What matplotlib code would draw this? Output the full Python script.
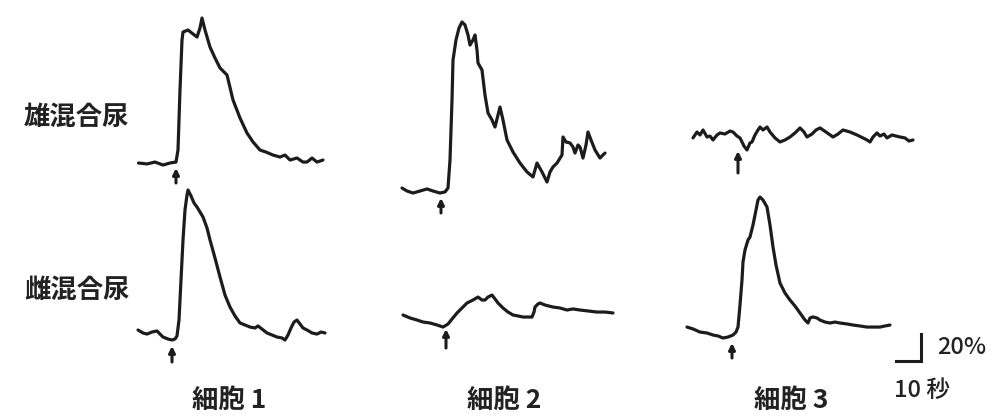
import matplotlib
matplotlib.use("Agg")
import matplotlib.pyplot as plt

plt.rcParams['font.family'] = ['Noto Sans CJK JP', 'DejaVu Sans']

# ---------------- data: time (s, relative to stimulus) and dF (% of baseline) -------------
# male mixed urine, cell 1
t_m1 = [-15, -11.6, -8.4, -5.2, -2.4, 0, 0.8, 1.6, 2.4, 2.8, 4.8, 6.8, 8.4, 9.6, 10.4, 11.6,
        13.6, 15.6, 17.6, 20.4, 22.8, 25.6, 28.4, 30.8, 33.6, 36, 38.8, 41.6, 43.6, 45.6,
        48.4, 50.8, 52.4, 54.4, 56.4, 58.8]
v_m1 = [0, -0.7, 0.7, -1.5, 0, 0.7, 9.6, 54, 91, 97, 98.5, 95.6, 93.3, 100, 107.4, 98.5,
        85.9, 77.8, 70.4, 65.2, 46.7, 33.3, 22.2, 15.6, 9.6, 8.1, 5.9, 4.4, 5.9, 2.2,
        3.7, 0.7, 0.7, 3.7, 0.7, 2.2]
# male mixed urine, cell 2
t_m2 = [-15.6, -13.6, -11.2, -8.4, -5.6, -3.2, -0.4, 1.6, 2.8, 3.6, 4.4, 4.8, 6.0, 7.2, 8.4,
        9.6, 10.8, 11.6, 12.8, 13.6, 14.4, 14.8, 16.4, 17.6, 18.8, 20.4, 21.6, 22.8, 23.6,
        24.8, 26.4, 28.8, 31.6, 34.4, 36.8, 38.4, 40.4, 42.4, 43.6, 44.8, 46.4, 48.4, 48.8,
        50.0, 51.6, 52.8, 53.6, 54.8, 55.6, 56.8, 58.0, 58.8, 60.0, 61.6, 63.6, 64.8, 65.6]
v_m2 = [2.2, 0, -1.5, 0, 1.5, 0, -1.5, -0.7, 2.2, 23, 67.4, 97, 111.9, 120.7, 125.2,
        123, 115.6, 108.1, 111.9, 115.6, 104.4, 94.8, 89.6, 71.1, 57.8, 52.6, 47.4, 56.3, 62.2,
        52.6, 37.8, 28.9, 20.7, 14.1, 10.4, 20.7, 14.1, 6.7, 14.1, 17.8, 20.7, 26.7, 40,
        36.3, 35.6, 32.6, 28.1, 34.1, 32.6, 24.4, 34.1, 43.7, 37.8, 30.4, 24.4, 26.7, 28.1]
# male mixed urine, cell 3
t_m3 = [-18, -16.4, -15.2, -14, -12.4, -11.2, -10, -8.4, -7.2, -5.2, -3.2, -2, -0.4, 0.8,
        2.4, 3.6, 4.8, 5.6, 6.8, 8, 8.8, 10, 11.6, 12.8, 14.8, 16.8, 18.8, 20.8, 22.8, 24.8,
        26.4, 27.6, 29.6, 31.2, 32.8, 35.2, 38, 40, 42, 44.8, 47.6, 50, 51.6, 52.8, 54, 55.6,
        56.8, 58.4, 59.6, 61.6, 63.2, 64.8, 66.8, 68.4, 70]
v_m3 = [-0.7, 3.7, 1.5, 5.2, 0, 0.7, -2.2, 1.5, 3.0, 2.2, 4.4, 3.7, 0.7, -0.7,
        -6.7, -9.6, -4.4, -3.7, 1.5, 5.2, 7.4, 5.2, 7.4, 3.7, -0.7, -3.7, -2.2, 0, 3.0, 6.7,
        3.7, 0, 2.2, 5.2, 6.7, 3.7, 0, 2.2, 5.2, 3.7, 1.5, -0.7, -2.2, -3.7, 0, 3.0,
        0.7, 2.2, -0.7, 1.5, 0.7, 0, -0.7, -3.0, -2.2]
# female mixed urine, cell 1
t_f1 = [-13.6, -11.6, -10, -8, -6, -4.8, -3.6, -1.6, 0, 1.2, 2, 2.8, 3.6, 4.4, 5.2, 6, 6.4,
        7.6, 8.8, 10, 11.2, 12.4, 14, 15.2, 17.2, 19.2, 21.2, 23.2, 25.2, 27.2, 29.2, 31.2,
        33.2, 34.4, 36, 38, 40, 42, 44, 45.2, 46.4, 47.6, 48.8, 50, 51.2, 52.4, 54, 56, 58,
        59.6, 61.2]
v_f1 = [3.7, 1.5, 0.7, 2.2, 3.0, 0.7, -1.5, -3.0, -3.7, -3.0, -0.7, 11.1, 40.7, 70.4, 92.6,
        103.7, 107.4, 103, 97.8, 94.8, 91.1, 87.4, 79.3, 70.4, 57, 43, 29.6, 20.7, 14.1, 8.9,
        7.4, 5.9, 5.2, 6.7, 4.4, 1.5, 0, -1.5, -2.2, -3.7, 0, 5.2, 9.6, 11.1, 8.1, 5.2, 3.7,
        1.5, 0.7, 2.2, 1.5]
# female mixed urine, cell 2
t_f2 = [-17.2, -14.4, -11.6, -9.2, -6.4, -3.6, -1.2, 0.8, 2.4, 4.4, 6.4, 8.4, 10.8, 12.8,
        14.4, 15.6, 16.8, 18.4, 19.6, 20.8, 22.8, 24.8, 26.8, 28.8, 30.8, 32.8, 34.4, 35.2,
        35.6, 36.8, 37.6, 39.6, 42.8, 45.6, 48.4, 50.8, 53.6, 56.8, 60.4, 63.6, 66.8]
v_f2 = [7.4, 5.2, 3.7, 2.2, 1.5, 0, -1.5, 0.7, 4.4, 8.9, 12.6, 16.3, 18.5, 20.7,
        18.5, 18.5, 20.7, 22.2, 19.3, 16.3, 12.6, 9.6, 7.4, 6.7, 5.9, 5.9, 5.9, 9.6,
        13.3, 15.6, 16.3, 14.8, 13.3, 12.6, 11.1, 11.9, 11.1, 10.4, 9.6, 9.6, 8.9]
# female mixed urine, cell 3
t_f3 = [-18, -15.6, -12.8, -10, -7.6, -5.6, -3.6, -1.6, 0.4, 1.6, 2.4, 3.2, 4, 4.4, 5.2,
        6.4, 7.2, 8.4, 9.6, 10.4, 11.2, 12.4, 14, 15.2, 16.4, 17.6, 19.2, 21.2, 23.2, 25.2,
        27.2, 29.2, 30.4, 31.2, 32.4, 34, 35.2, 37.2, 39.2, 41.2, 43.2, 46, 48.4, 51.2, 54,
        56.4, 59.2, 61.2, 63.2]
v_f3 = [4.4, 3.0, 0.7, 0, -1.5, -2.2, -3.7, -3.0, -1.5, 0.7, 4.4, 20.7, 39.3, 52.6, 61.5,
        68.9, 71.1, 80, 91.1, 98.5, 100.7, 98.5, 93.3, 80, 63.7, 50.4, 37, 29.6, 24.4, 20,
        14.8, 9.6, 7.4, 11.1, 11.9, 11.1, 9.6, 8.1, 7.4, 8.1, 7.4, 6.7, 5.9, 5.2, 4.4,
        4.4, 4.4, 5.2, 5.9]

row_labels = ["雄混合尿", "雌混合尿"]
col_labels = ["細胞 1", "細胞 2", "細胞 3"]
scale_time_s = 10
scale_pct = 20
scale_labels = ["20%", "10 秒"]

# ---------------- layout (pixels) ----------------
W, H = 994, 416
PX_PER_S = 2.5      # horizontal scale
PX_PER_PCT = 1.35   # vertical scale

traces = [
    # (t, v, stimulus x px, baseline y px, arrow top px, arrow bottom px)
    (t_m1, v_m1, 176, 163, 168, 183),
    (t_m2, v_m2, 441, 191, 198, 213),
    (t_m3, v_m3, 738, 137, 151, 173),
    (t_f1, v_f1, 172, 335, 346, 362),
    (t_f2, v_f2, 446, 325, 329, 348),
    (t_f3, v_f3, 732, 333, 343, 358),
]

def sx(px):
    return px / PX_PER_S

def sy(py):
    return (H - py) / PX_PER_PCT

fig = plt.figure(figsize=(W / 100, H / 100), dpi=100)
ax = fig.add_axes([0, 0, 1, 1])
ax.set_xlim(0, W / PX_PER_S)
ax.set_ylim(0, H / PX_PER_PCT)
ax.axis('off')

col = '#1c1c1c'
for t, v, x0, y0, a_top, a_bot in traces:
    ax.plot([sx(x0) + ti for ti in t], [sy(y0) + vi for vi in v],
            color=col, lw=2.3, solid_joinstyle='round', solid_capstyle='round')
    ax.annotate('', xy=(sx(x0), sy(a_top)), xytext=(sx(x0), sy(a_bot)),
                arrowprops=dict(arrowstyle='-|>', color=col, lw=2.2,
                                mutation_scale=9, shrinkA=0, shrinkB=0))

# scale bar
bx, by = sx(921), sy(361)
ax.plot([bx - scale_time_s, bx, bx], [by, by, by + scale_pct],
        color=col, lw=2.2, solid_joinstyle='miter')

def ftxt(px, py, s, ha='center', size=19, weight='bold'):
    fig.text(px / W, 1 - py / H, s, ha=ha, va='center', fontsize=size,
             fontweight=weight, color='#222222')

ftxt(24, 117, row_labels[0], ha='left')
ftxt(24, 290, row_labels[1], ha='left')
ftxt(229, 400, col_labels[0])
ftxt(504, 400, col_labels[1])
ftxt(791, 400, col_labels[2])
ftxt(937, 348, scale_labels[0], ha='left', size=17, weight='medium')
ftxt(894, 390, scale_labels[1], ha='left', size=17, weight='medium')

fig.savefig('out.png', dpi=100, facecolor='white')
